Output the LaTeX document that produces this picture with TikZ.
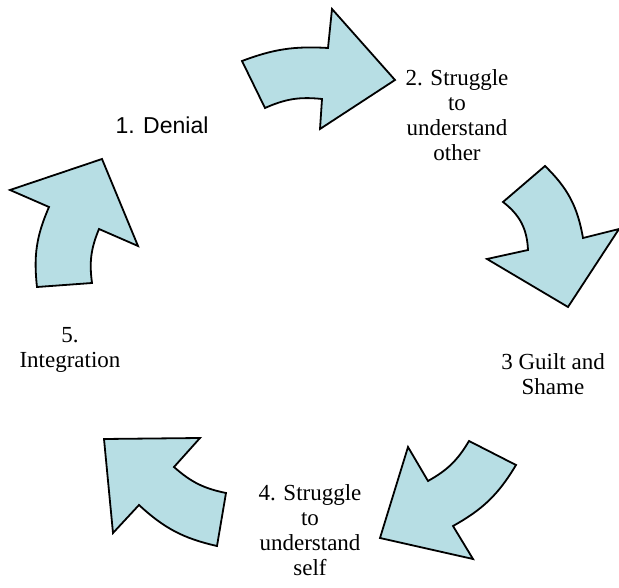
\documentclass[tikz,border=0pt]{standalone}
\usepackage{fontspec}
\setmainfont{Liberation Serif}
\newfontfamily\denialfont{Liberation Sans}
\definecolor{stageblue}{RGB}{183,222,228}
\begin{document}
\begin{tikzpicture}[x=1pt,y=-1pt,
  stagearrow/.style={draw=black,fill=stageblue,line width=1.8pt,line join=miter},
  stagelabel/.style={font=\fontsize{23}{25}\selectfont,align=center,inner sep=0pt,anchor=north}]
\useasboundingbox (0,0) rectangle (619,588);

% arrows, clockwise from the top
\draw[stagearrow] (242,61) to[bend left=12] (328,48) -- (332,9) -- (395,80)
  -- (320,129) -- (322,99) to[bend right=15] (265,108) -- cycle;
\draw[stagearrow] (503,202) -- (545,166) to[bend left=18] (583,238) -- (619,229)
  -- (568,307) -- (487,259) -- (528,250) to[bend right=25] (503,202) -- cycle;
\draw[stagearrow] (469,441) -- (516,465) to[bend left=15] (453,526) -- (473,559)
  -- (380,538) -- (408,447) -- (428,481) to[bend right=15] (469,441) -- cycle;
\draw[stagearrow] (104,439) -- (200,438) -- (174,467) to[bend right=15] (226,493)
  -- (217,546) to[bend left=15] (139,505) -- (113,533) -- cycle;
\draw[stagearrow] (10,190) -- (102,159) -- (138,246) -- (99,229) to[bend right=15] (92,283)
  -- (37,287) to[bend left=15] (49,207) -- cycle;

% stage labels
\node[stagelabel,font=\denialfont\fontsize{23}{25}\selectfont] (denial) at (162,117) {1. Denial};
\node[stagelabel] (other) at (457,69) {2. Struggle\\to\\understand\\other};
\node[stagelabel] (shame) at (553,353) {3 Guilt and\\Shame};
\node[stagelabel] (self) at (310,484) {4. Struggle\\to\\understand\\self};
\node[stagelabel] (integration) at (70,327) {5.\\Integration};
\end{tikzpicture}
\end{document}
